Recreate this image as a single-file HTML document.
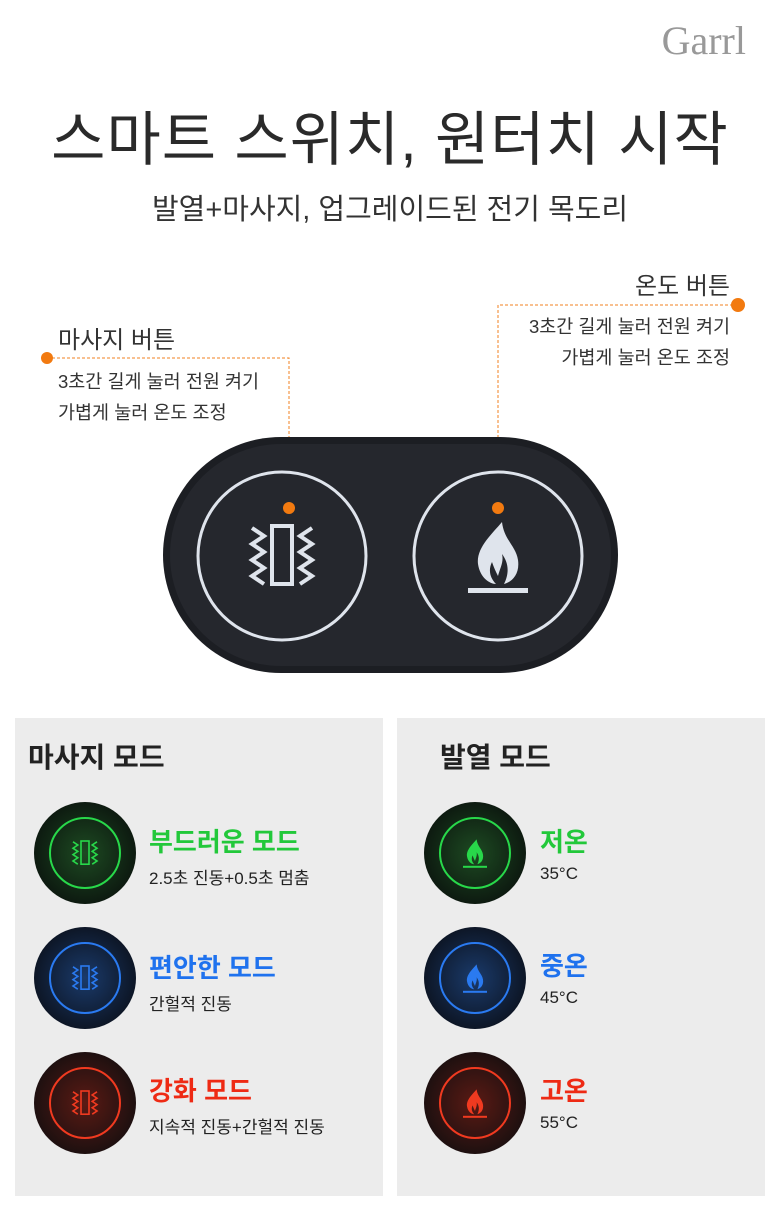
<!DOCTYPE html>
<html><head><meta charset="utf-8"><style>
body{margin:0;width:780px;height:1226px;background:#fff;position:relative;overflow:hidden;font-family:"Liberation Sans","Noto Sans CJK KR",sans-serif;color:#222}
.t{position:absolute;white-space:nowrap}
svg{position:absolute;left:0;top:0}
</style></head><body>
<svg width="780" height="1226" viewBox="0 0 780 1226">
<defs>
<symbol id="vib" viewBox="-40 -40 80 80">
<rect x="-10" y="-30" width="20" height="58" fill="none" stroke="currentColor" stroke-width="4"/>
<polyline points="-30,-28 -18,-20 -30,-12 -18,-4 -30,4 -18,12 -30,20 -18,28" fill="none" stroke="currentColor" stroke-width="4"/>
<polyline points="30,-28 18,-20 30,-12 18,-4 30,4 18,12 30,20 18,28" fill="none" stroke="currentColor" stroke-width="4"/>
</symbol>
<symbol id="fl" viewBox="-40 -40 80 80">
<path d="M4,-34 C-6,-22 -22,-8 -20,8 C-18,22 -8,28 -2,28 C-8,22 -10,14 -6,6 C-4,12 -2,16 0,20 C2,12 6,6 4,-2 C10,6 12,16 6,28 C14,26 22,18 20,4 C18,-10 6,-16 4,-34Z" fill="currentColor"/>
<rect x="-30" y="32" width="60" height="5" fill="currentColor"/>
</symbol>
<radialGradient id="gG"><stop offset="0" stop-color="#1d4a22"/><stop offset="1" stop-color="#0d1a10"/></radialGradient>
<radialGradient id="gB"><stop offset="0" stop-color="#1a3a6a"/><stop offset="1" stop-color="#0d1626"/></radialGradient>
<radialGradient id="gR"><stop offset="0" stop-color="#5a1a14"/><stop offset="1" stop-color="#1e1010"/></radialGradient>
</defs>
<path d="M47,358 H289 V508" fill="none" stroke="#f08020" stroke-width="1" stroke-dasharray="3,2"/>
<circle cx="47" cy="358" r="6" fill="#f27a10"/>
<path d="M738,305 H498 V508" fill="none" stroke="#f08020" stroke-width="1" stroke-dasharray="3,2"/>
<circle cx="738" cy="305" r="7" fill="#f27a10"/>
<rect x="163" y="437" width="455" height="236" rx="118" fill="#1c1e23"/>
<rect x="170" y="444" width="441" height="222" rx="111" fill="#25272d"/>
<circle cx="282" cy="556" r="84" fill="none" stroke="#dfe4ec" stroke-width="3"/>
<circle cx="498" cy="556" r="84" fill="none" stroke="#dfe4ec" stroke-width="3"/>
<use href="#vib" x="242" y="516" width="80" height="80" color="#dfe4ec"/>
<use href="#fl" x="458" y="516" width="80" height="80" color="#dfe4ec"/>
<circle cx="289" cy="508" r="6" fill="#f27a10"/>
<circle cx="498" cy="508" r="6" fill="#f27a10"/>
<rect x="15" y="718" width="368" height="478" fill="#ececec"/>
<rect x="397" y="718" width="368" height="478" fill="#ececec"/>
<g>
<circle cx="85" cy="853" r="51" fill="url(#gG)"/><circle cx="85" cy="853" r="35" fill="none" stroke="#28d84a" stroke-width="2"/><use href="#vib" x="69" y="837" width="32" height="32" color="#28d84a"/>
<circle cx="85" cy="978" r="51" fill="url(#gB)"/><circle cx="85" cy="978" r="35" fill="none" stroke="#2a7af0" stroke-width="2"/><use href="#vib" x="69" y="962" width="32" height="32" color="#2a7af0"/>
<circle cx="85" cy="1103" r="51" fill="url(#gR)"/><circle cx="85" cy="1103" r="35" fill="none" stroke="#f03a20" stroke-width="2"/><use href="#vib" x="69" y="1087" width="32" height="32" color="#f03a20"/>
<circle cx="475" cy="853" r="51" fill="url(#gG)"/><circle cx="475" cy="853" r="35" fill="none" stroke="#28d84a" stroke-width="2"/><use href="#fl" x="459" y="837" width="32" height="32" color="#28d84a"/>
<circle cx="475" cy="978" r="51" fill="url(#gB)"/><circle cx="475" cy="978" r="35" fill="none" stroke="#2a7af0" stroke-width="2"/><use href="#fl" x="459" y="962" width="32" height="32" color="#2a7af0"/>
<circle cx="475" cy="1103" r="51" fill="url(#gR)"/><circle cx="475" cy="1103" r="35" fill="none" stroke="#f03a20" stroke-width="2"/><use href="#fl" x="459" y="1087" width="32" height="32" color="#f03a20"/>
</g>
</svg>
<div class="t" style="right:34px;top:17px;font-family:'Liberation Serif',serif;font-size:40px;color:#999">Garrl</div>
<div class="t" style="left:0;width:780px;text-align:center;top:92px;font-size:59px;color:#2a2a2a;letter-spacing:1px">스마트 스위치, 원터치 시작</div>
<div class="t" style="left:0;width:780px;text-align:center;top:186px;font-size:29px;color:#333">발열+마사지, 업그레이드된 전기 목도리</div>
<div class="t" style="left:58px;top:320px;font-size:24px;color:#333">마사지 버튼</div>
<div class="t" style="left:58px;top:366px;font-size:18.5px;color:#333;line-height:31px">3초간 길게 눌러 전원 켜기<br>가볍게 눌러 온도 조정</div>
<div class="t" style="right:50px;top:266px;font-size:24px;color:#333">온도 버튼</div>
<div class="t" style="right:50px;top:311px;font-size:18.5px;color:#333;line-height:31px;text-align:right">3초간 길게 눌러 전원 켜기<br>가볍게 눌러 온도 조정</div>
<div class="t" style="left:28px;top:736px;font-size:28px;font-weight:bold">마사지 모드</div>
<div class="t" style="left:440px;top:736px;font-size:28px;font-weight:bold">발열 모드</div>
<div class="t" style="left:149px;top:822px;font-size:26px;font-weight:bold;color:#22c83a">부드러운 모드</div>
<div class="t" style="left:149px;top:864px;font-size:17px">2.5초 진동+0.5초 멈춤</div>
<div class="t" style="left:149px;top:948px;font-size:26px;font-weight:bold;color:#1f72ee">편안한 모드</div>
<div class="t" style="left:149px;top:990px;font-size:17px">간헐적 진동</div>
<div class="t" style="left:149px;top:1071px;font-size:26px;font-weight:bold;color:#ee2a14">강화 모드</div>
<div class="t" style="left:149px;top:1113px;font-size:17px">지속적 진동+간헐적 진동</div>
<div class="t" style="left:540px;top:822px;font-size:26px;font-weight:bold;color:#22c83a">저온</div>
<div class="t" style="left:540px;top:864px;font-size:17px">35°C</div>
<div class="t" style="left:540px;top:946px;font-size:26px;font-weight:bold;color:#1f72ee">중온</div>
<div class="t" style="left:540px;top:988px;font-size:17px">45°C</div>
<div class="t" style="left:540px;top:1071px;font-size:26px;font-weight:bold;color:#ee2a14">고온</div>
<div class="t" style="left:540px;top:1113px;font-size:17px">55°C</div>
</body></html>
